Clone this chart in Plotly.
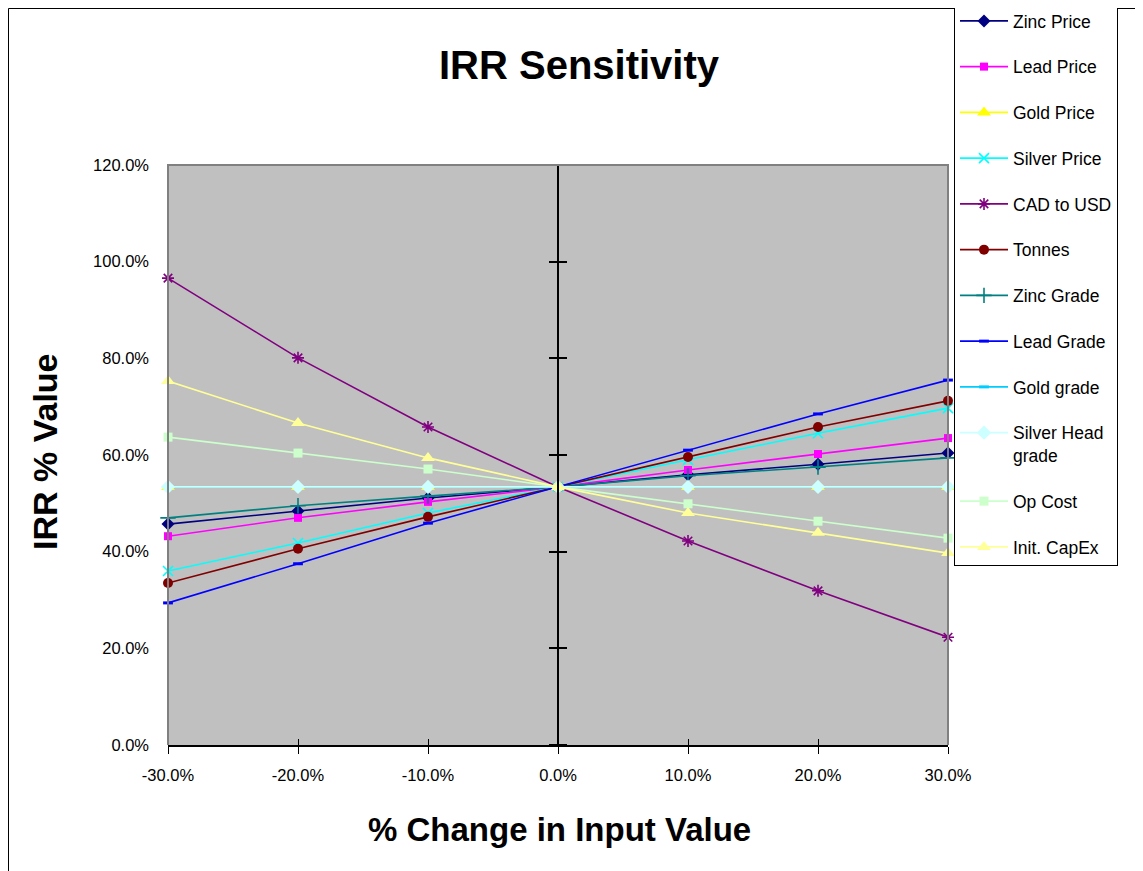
import plotly.graph_objects as go

# ---------------- data ----------------
x_change = [-0.3, -0.2, -0.1, 0.0, 0.1, 0.2, 0.3]
x_ticks = [-0.3, -0.2, -0.1, 0.0, 0.1, 0.2, 0.3]
x_tick_labels = ["-30.0%", "-20.0%", "-10.0%", "0.0%", "10.0%", "20.0%", "30.0%"]
y_ticks = [0.0, 0.2, 0.4, 0.6, 0.8, 1.0, 1.2]
y_tick_labels = ["0.0%", "20.0%", "40.0%", "60.0%", "80.0%", "100.0%", "120.0%"]

zinc_price = [0.457, 0.484, 0.511, 0.534, 0.559, 0.581, 0.604]
lead_price = [0.432, 0.470, 0.503, 0.534, 0.569, 0.602, 0.635]
gold_price = [0.534, 0.534, 0.534, 0.534, 0.534, 0.534, 0.534]
silver_price = [0.360, 0.418, 0.480, 0.534, 0.590, 0.645, 0.697]
cad_to_usd = [0.966, 0.801, 0.658, 0.534, 0.422, 0.319, 0.223]
tonnes = [0.335, 0.406, 0.472, 0.534, 0.596, 0.658, 0.712]
zinc_grade = [0.470, 0.495, 0.515, 0.534, 0.557, 0.575, 0.594]
lead_grade = [0.294, 0.375, 0.459, 0.534, 0.610, 0.685, 0.755]
gold_grade = [0.534, 0.534, 0.534, 0.534, 0.534, 0.534, 0.534]
silver_head_grade = [0.534, 0.534, 0.534, 0.534, 0.534, 0.534, 0.534]
op_cost = [0.637, 0.604, 0.571, 0.534, 0.499, 0.463, 0.428]
init_capex = [0.753, 0.666, 0.594, 0.534, 0.480, 0.439, 0.397]

series = [
    ("Zinc Price", zinc_price, "#000080", "diamond", 10),
    ("Lead Price", lead_price, "#FF00FF", "square", 8),
    ("Gold Price", gold_price, "#FFFF00", "triangle-up", 12),
    ("Silver Price", silver_price, "#00FFFF", "x-thin", 10),
    ("CAD to USD", cad_to_usd, "#800080", "asterisk", 10),
    ("Tonnes", tonnes, "#800000", "circle", 10),
    ("Zinc Grade", zinc_grade, "#008080", "cross-thin", 11),
    ("Lead Grade", lead_grade, "#0000FF", "line-ew", 7),
    ("Gold grade", gold_grade, "#00CCFF", "line-ew", 7),
    ("Silver Head<br>grade", silver_head_grade, "#CCFFFF", "diamond", 11),
    ("Op Cost", op_cost, "#CCFFCC", "square", 9),
    ("Init. CapEx", init_capex, "#FFFF99", "triangle-up", 12),
]

FONT = "Liberation Sans, Arial, sans-serif"
OFF = 8  # page body margin
W, H = 1143 - OFF, 871 - OFF
# plot area in page pixels
L, R, T, B = 168, 948, 165, 745
pw, ph = R - L, B - T


def px_x(px):
    return (px - L) / pw


def px_y(py):
    return (B - py) / ph


fig = go.Figure()
for i, (name, vals, color, sym, size) in enumerate(series):
    thin = sym in ("x-thin", "asterisk", "cross-thin", "line-ew")
    marker = dict(symbol=sym, size=size, color=color)
    if thin:
        marker["line"] = dict(width=3 if sym == "line-ew" else 1.6, color=color)
    else:
        marker["line"] = dict(width=0)
    fig.add_trace(go.Scatter(
        x=x_change, y=vals, name=name, mode="lines+markers",
        line=dict(color=color, width=1.6), marker=marker,
        legendgroup=f"g{i}", cliponaxis=False,
    ))

# dummy traces so overlay axes render
fig.add_trace(go.Scatter(x=[None], y=[None], xaxis="x2", yaxis="y", showlegend=False, hoverinfo="skip"))
fig.add_trace(go.Scatter(x=[None], y=[None], xaxis="x", yaxis="y2", showlegend=False, hoverinfo="skip"))
fig.add_trace(go.Scatter(x=[None], y=[None], xaxis="x", yaxis="y3", showlegend=False, hoverinfo="skip"))

fig.update_layout(
    width=W, height=H,
    margin=dict(l=L - OFF, r=W - (R - OFF), t=T - OFF, b=H - (B - OFF), autoexpand=False),
    paper_bgcolor="white",
    plot_bgcolor="#C0C0C0",
    font=dict(family=FONT, size=16, color="black"),
    title=dict(text="IRR Sensitivity", x=(579 - OFF) / W, xanchor="center", xref="container",
               y=1 - (65 - OFF) / H, yanchor="middle",
               font=dict(family=FONT, size=40, weight="bold", color="black")),
    xaxis=dict(range=[-0.3, 0.3], tickvals=x_ticks, ticktext=x_tick_labels,
               showgrid=False, zeroline=False, showline=True, linecolor="black", linewidth=2,
               ticks="outside", ticklen=7, tickcolor="black", tickwidth=1,
               tickfont=dict(size=16.5), ticklabelstandoff=7),
    xaxis2=dict(overlaying="x", anchor="y", range=[-0.3, 0.3], tickvals=x_ticks,
                showticklabels=False, showgrid=False, zeroline=False, showline=False,
                ticks="inside", ticklen=6, tickcolor="black", tickwidth=1),
    yaxis=dict(range=[0, 1.2], tickvals=y_ticks, ticktext=y_tick_labels,
               showgrid=False, zeroline=False, showline=False, ticks="",
               tickfont=dict(size=16.5), ticklabelstandoff=18),
    yaxis2=dict(overlaying="y", anchor="free", position=0.5, side="left",
                range=[0, 1.2], tickvals=y_ticks, showticklabels=False,
                showgrid=False, zeroline=False, showline=True, linecolor="black", linewidth=1.5,
                ticks="outside", ticklen=8, tickcolor="black", tickwidth=2),
    yaxis3=dict(overlaying="y", anchor="free", position=0.5, side="right",
                range=[0, 1.2], tickvals=y_ticks, showticklabels=False,
                showgrid=False, zeroline=False, showline=False,
                ticks="outside", ticklen=8, tickcolor="black", tickwidth=2),
    legend=dict(x=px_x(954), xanchor="left", y=px_y(2), yanchor="top",
                bgcolor="white", bordercolor="black", borderwidth=1,
                font=dict(family=FONT, size=17.5), traceorder="grouped",
                tracegroupgap=20, itemwidth=48, maxheight=860, valign="top"),
    showlegend=True,
)

# plot-area frame (gray top/left/right)
fig.add_shape(type="path", xref="paper", yref="paper",
              path="M 0,0 L 0,1 L 1,1 L 1,0", line=dict(color="#808080", width=2), layer="above")
# outer chart border
fig.add_shape(type="rect", xref="paper", yref="paper",
              x0=px_x(OFF + 0.5), x1=px_x(1300), y0=px_y(1000), y1=px_y(OFF + 0.5),
              line=dict(color="black", width=1), layer="below")

fig.add_annotation(text="IRR % Value", xref="paper", yref="paper", x=px_x(45), y=px_y(452),
                   textangle=-90, showarrow=False, xanchor="center", yanchor="middle",
                   font=dict(family=FONT, size=34, weight="bold"))
fig.add_annotation(text="% Change in Input Value", xref="paper", yref="paper", x=px_x(559), y=px_y(829),
                   showarrow=False, xanchor="center", yanchor="middle",
                   font=dict(family=FONT, size=33, weight="bold"))

fig.write_html("out.html")
